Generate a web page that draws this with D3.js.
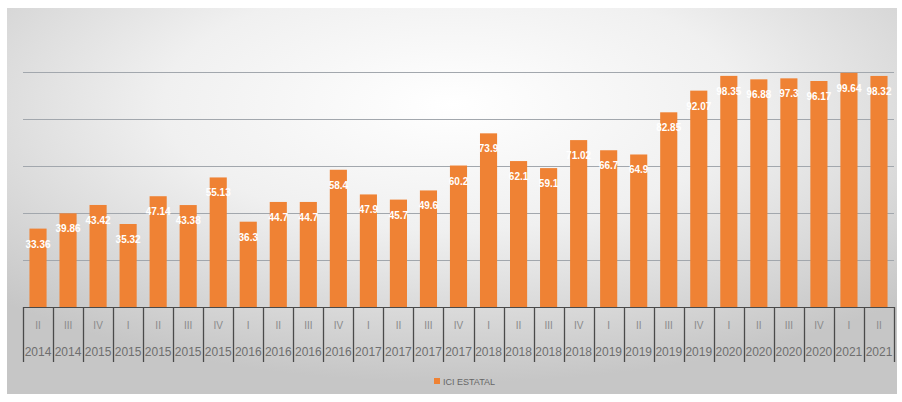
<!DOCTYPE html>
<html>
<head>
<meta charset="utf-8">
<script src="https://cdn.jsdelivr.net/npm/d3@7/dist/d3.min.js"></script>
<style>
  html, body { margin: 0; padding: 0; background: #ffffff; }
  svg { display: block; }
</style>
</head>
<body>
<svg id="chart" width="902" height="402"></svg>
<script>
const quarters = ["II","III","IV","I","II","III","IV","I","II","III","IV","I","II","III","IV","I","II","III","IV","I","II","III","IV","I","II","III","IV","I","II"];
const years = ["2014","2014","2015","2015","2015","2015","2015","2016","2016","2016","2016","2017","2017","2017","2017","2018","2018","2018","2018","2019","2019","2019","2019","2020","2020","2020","2020","2021","2021"];
const values = [33.36, 39.86, 43.42, 35.32, 47.14, 43.38, 55.13, 36.3, 44.7, 44.7, 58.4, 47.9, 45.7, 49.6, 60.2, 73.9, 62.1, 59.1, 71.02, 66.7, 64.9, 82.85, 92.07, 98.35, 96.88, 97.3, 96.17, 99.64, 98.32];
const gridTicks = [20, 40, 60, 80, 100];
const seriesName = "ICI ESTATAL";

(function () {
const svg = d3.select("#chart");
const defs = svg.append("defs");
const grad = defs.append("radialGradient").attr("id", "bg")
  .attr("cx", "50%").attr("cy", "25%").attr("r", "72%")
  .attr("fx", "50%").attr("fy", "25%");
grad.append("stop").attr("offset", "0%").attr("stop-color", "#ffffff");
grad.append("stop").attr("offset", "45%").attr("stop-color", "#f0f0f0");
grad.append("stop").attr("offset", "100%").attr("stop-color", "#c6c6c6");

svg.append("rect").attr("x", 7).attr("y", 8).attr("width", 890).attr("height", 386)
  .attr("fill", "url(#bg)");

const pLeft = 23, pRight = 894, pTop = 25, pBottom = 307;
const x = d3.scaleBand().domain(d3.range(values.length)).range([pLeft, pRight])
  .paddingInner(0.43).paddingOuter(0.215);
const y = d3.scaleLinear().domain([0, 120]).range([pBottom, pTop]);
const step = x.step(), bw = x.bandwidth();

svg.append("g").selectAll("line").data(gridTicks).join("line")
  .attr("x1", pLeft).attr("x2", pRight)
  .attr("y1", d => Math.round(y(d)) + 0.5).attr("y2", d => Math.round(y(d)) + 0.5)
  .attr("stroke", "#a2a7ad").attr("stroke-width", 1.2);

svg.append("g").selectAll("rect").data(values).join("rect")
  .attr("x", (d, i) => x(i)).attr("width", bw)
  .attr("y", d => y(d)).attr("height", d => y(0) - y(d))
  .attr("fill", "#ef8234");

svg.append("g").selectAll("text").data(values).join("text")
  .attr("x", (d, i) => x(i) + bw / 2).attr("y", d => y(d) + 19)
  .attr("text-anchor", "middle")
  .attr("font-family", "Liberation Sans, Arial, sans-serif")
  .attr("font-size", 10).attr("font-weight", "bold")
  .attr("fill", "#ffffff")
  .text(d => String(d));

const axisG = svg.append("g");
const cellLeft = i => x(i) + bw / 2 - step / 2;
axisG.append("line").attr("x1", pLeft).attr("x2", pRight)
  .attr("y1", pBottom + 0.5).attr("y2", pBottom + 0.5)
  .attr("stroke", "#4a4a4a").attr("stroke-width", 1.2);
axisG.selectAll("line.v").data(d3.range(values.length + 1)).join("line")
  .attr("class", "v")
  .attr("x1", i => Math.round(i < values.length ? cellLeft(i) : pRight) + 0.5)
  .attr("x2", i => Math.round(i < values.length ? cellLeft(i) : pRight) + 0.5)
  .attr("y1", pBottom).attr("y2", 362)
  .attr("stroke", "#4a4a4a").attr("stroke-width", 1.3);
axisG.selectAll("text.q").data(quarters).join("text")
  .attr("class", "q")
  .attr("x", (d, i) => x(i) + bw / 2).attr("y", 329)
  .attr("text-anchor", "middle")
  .attr("font-family", "Liberation Sans, Arial, sans-serif")
  .attr("font-size", 10).attr("fill", "#8a8a8a")
  .text(d => d);
axisG.selectAll("text.yr").data(years).join("text")
  .attr("class", "yr")
  .attr("x", (d, i) => x(i) + bw / 2).attr("y", 356)
  .attr("text-anchor", "middle")
  .attr("font-family", "Liberation Sans, Arial, sans-serif")
  .attr("font-size", 12).attr("fill", "#6e6e6e")
  .text(d => d);

const lg = svg.append("g");
lg.append("rect").attr("x", 434).attr("y", 378).attr("width", 6).attr("height", 6).attr("fill", "#ef8234");
lg.append("text").attr("x", 443).attr("y", 384.5)
  .attr("font-family", "Liberation Sans, Arial, sans-serif")
  .attr("font-size", 9).attr("fill", "#666666")
  .text(seriesName);
})();
</script>
</body>
</html>
